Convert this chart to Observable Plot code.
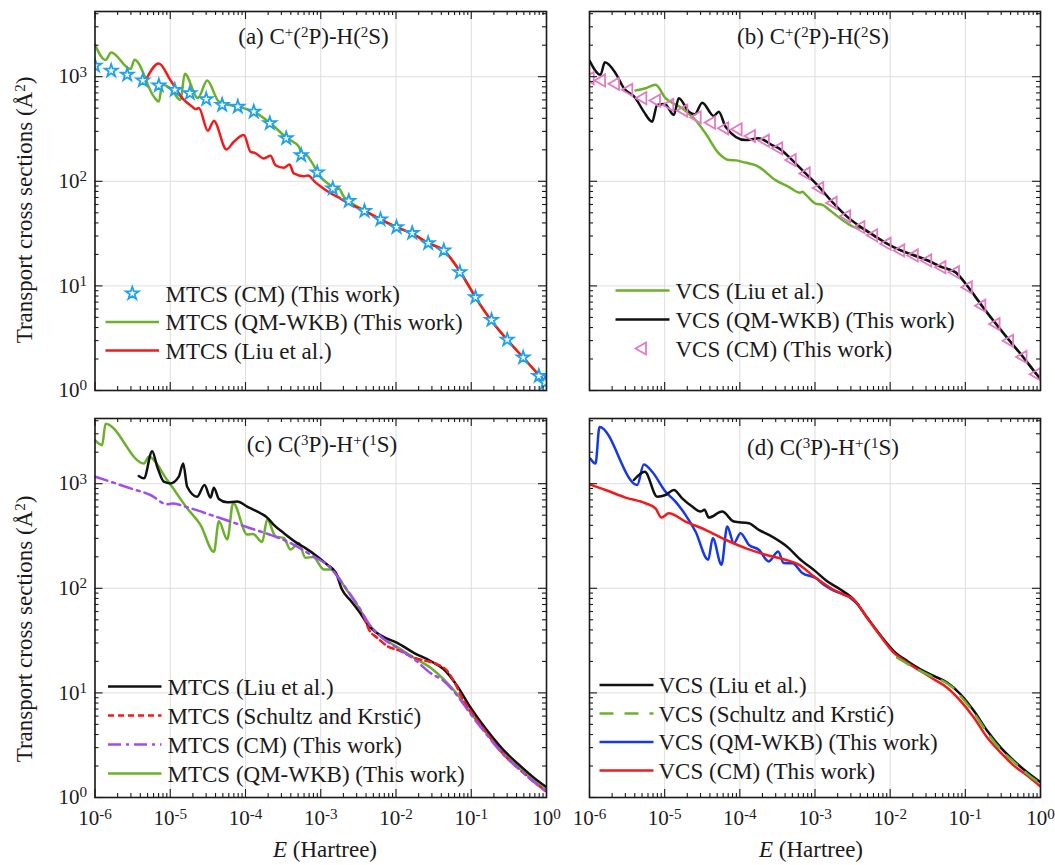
<!DOCTYPE html>
<html><head><meta charset="utf-8">
<script src="https://cdn.jsdelivr.net/npm/d3@7"></script>
<script src="https://cdn.jsdelivr.net/npm/@observablehq/plot@0.6"></script>
<style>
html,body{margin:0;padding:0;background:#fff;}
#root{position:relative;width:1055px;height:865px;overflow:hidden;font-family:"Liberation Serif","Times New Roman",serif;}
#root svg{position:absolute;}
</style></head><body><div id="root"></div>
<script>
// ---------- axis tick values ----------
const majorX = [1e-6, 1e-5, 1e-4, 1e-3, 1e-2, 1e-1, 1];
const majorY = [1, 10, 100, 1000];
const minorMult = [2, 3, 4, 5, 6, 7, 8, 9];
const yMax = 4200;

// ---------- panel (a): MTCS, C+(2P)-H(2S) (log10 values) ----------
const a_cm_logE = [-6.0,-5.785,-5.572,-5.365,-5.152,-4.94,-4.74,-4.522,-4.31,-4.102,-3.89,-3.677,-3.459,-3.26,-3.047,-2.84,-2.627,-2.419,-2.206,-1.993,-1.785,-1.572,-1.365,-1.152,-0.944,-0.731,-0.522,-0.31,-0.102,-0.02];
const a_cm_logS = [3.105,3.057,3.018,2.964,2.916,2.874,2.842,2.785,2.73,2.714,2.666,2.555,2.411,2.25,2.084,1.931,1.812,1.716,1.636,1.562,1.505,1.409,1.339,1.131,0.891,0.674,0.485,0.315,0.139,0.075];
const a_qm_logE = [-6.0,-5.86,-5.785,-5.528,-5.475,-5.218,-5.152,-5.107,-5.0,-4.864,-4.807,-4.634,-4.509,-4.354,-4.11,-3.89,-3.668,-3.446,-3.29,-3.24,-3.19,-3.136,-3.003,-2.87,-2.8,-2.76,-2.7,-2.627,-2.428,-2.206,-1.993,-1.785,-1.572,-1.365,-1.143,-0.944,-0.731,-0.522,-0.31,-0.08,0];
const a_qm_logS = [3.306,3.16,3.232,3.073,3.162,2.81,2.762,2.922,2.89,2.778,3.028,2.795,2.964,2.762,2.714,2.666,2.555,2.411,2.33,2.24,2.25,2.20,2.042,1.96,1.92,1.93,1.86,1.812,1.723,1.636,1.562,1.499,1.409,1.339,1.131,0.891,0.667,0.485,0.315,0.13,0.06];
const a_liu_logE = [-5.33,-5.152,-5.0,-4.84,-4.71,-4.66,-4.62,-4.5,-4.42,-4.253,-4.155,-4.022,-3.933,-3.87,-3.757,-3.668,-3.601,-3.49,-3.415,-3.358,-3.225,-3.17,-3.07,-3.0,-2.87,-2.737,-2.627,-2.428,-2.206,-1.993,-1.785,-1.572,-1.365,-1.143,-0.944,-0.731,-0.522,-0.31,-0.08,0];
const a_liu_logS = [2.96,3.125,2.97,2.795,2.714,2.69,2.70,2.484,2.577,2.305,2.378,2.442,2.282,2.27,2.219,2.244,2.154,2.129,2.161,2.075,2.049,2.055,1.99,1.95,1.886,1.835,1.787,1.723,1.636,1.562,1.499,1.409,1.339,1.131,0.891,0.667,0.485,0.315,0.13,0.07];

// ---------- panel (b): VCS, C+(2P)-H(2S) ----------
const b_qm_logE = [-6.0,-5.854,-5.796,-5.654,-5.543,-5.388,-5.278,-5.166,-5.1,-5.0,-4.878,-4.812,-4.679,-4.6,-4.5,-4.346,-4.28,-4.19,-3.925,-3.748,-3.57,-3.48,-3.303,-3.126,-2.95,-2.759,-2.578,-2.389,-2.219,-2.04,-1.859,-1.679,-1.5,-1.311,-1.131,-0.96,-0.78,-0.591,-0.411,-0.232,-0.052,0];
const b_qm_logS = [3.155,3.018,3.137,3.034,2.89,2.795,2.666,2.57,2.73,2.74,2.634,2.795,2.666,2.64,2.752,2.625,2.666,2.522,2.394,2.411,2.346,2.315,2.203,2.075,1.95,1.793,1.665,1.562,1.483,1.403,1.339,1.291,1.243,1.179,1.131,0.987,0.811,0.635,0.475,0.321,0.155,0.11];
const b_cm_logE = [-5.99,-5.84,-5.654,-5.477,-5.29,-5.109,-4.932,-4.745,-4.567,-4.377,-4.2,-4.022,-3.845,-3.66,-3.482,-3.303,-3.117,-2.936,-2.759,-2.578,-2.389,-2.219,-2.04,-1.859,-1.679,-1.5,-1.311,-1.131,-0.96,-0.78,-0.591,-0.411,-0.232,-0.052];
const b_cm_logS = [2.987,2.964,2.932,2.874,2.795,2.772,2.73,2.676,2.612,2.561,2.507,2.497,2.433,2.388,2.315,2.203,2.075,1.935,1.793,1.665,1.562,1.483,1.403,1.339,1.291,1.243,1.179,1.131,0.987,0.811,0.635,0.475,0.321,0.155];
const b_liu_logE = [-5.388,-5.25,-5.122,-4.989,-4.767,-4.59,-4.457,-4.28,-4.147,-4.05,-3.969,-3.748,-3.526,-3.349,-3.2,-3.17,-3.12,-2.993,-2.9,-2.803,-2.578,-2.48,-2.389,-2.219,-2.04,-1.859,-1.679,-1.5,-1.311,-1.131,-0.96,-0.78,-0.591,-0.411,-0.232,-0.052,0];
const b_liu_logS = [2.868,2.89,2.922,2.795,2.699,2.586,2.459,2.267,2.203,2.2,2.186,2.138,2.011,1.946,1.89,1.9,1.87,1.787,1.775,1.723,1.601,1.562,1.555,1.483,1.403,1.339,1.295,1.243,1.179,1.131,0.987,0.811,0.635,0.475,0.321,0.155,0.11];

// ---------- panel (c): MTCS, C(3P)-H+(1S) ----------
const c_liu_logE = [-5.418,-5.35,-5.24,-5.173,-5.085,-4.997,-4.886,-4.828,-4.775,-4.642,-4.545,-4.465,-4.42,-4.354,-4.243,-4.11,-3.978,-3.8,-3.712,-3.624,-3.49,-3.313,-3.203,-3.047,-2.914,-2.8,-2.719,-2.6,-2.493,-2.36,-2.18,-1.984,-1.763,-1.541,-1.365,-1.187,-1.01,-0.788,-0.567,-0.345,-0.169,0];
const c_liu_logS = [3.074,3.051,3.311,3.162,3.019,3.003,3.067,3.193,2.971,2.876,2.988,2.867,2.962,2.854,2.822,2.829,2.781,2.717,2.676,2.607,2.527,2.432,2.384,2.305,2.226,2.15,1.99,1.88,1.781,1.64,1.54,1.479,1.383,1.305,1.226,1.067,0.86,0.64,0.45,0.3,0.19,0.098];
const c_sk_logE = [-2.428,-2.36,-2.25,-2.117,-1.94,-1.763,-1.63,-1.452,-1.32,-1.21,-1.1,-1.01,-0.788,-0.567,-0.345,-0.169,0];
const c_sk_logS = [1.733,1.606,1.527,1.448,1.4,1.336,1.311,1.273,1.21,1.083,0.924,0.829,0.61,0.41,0.26,0.15,0.06];
const c_cm_logE = [-6.0,-5.794,-5.528,-5.262,-5.04,-4.98,-4.73,-4.465,-4.2,-3.935,-3.668,-3.402,-3.136,-2.87,-2.674,-2.493,-2.359,-2.18,-1.984,-1.763,-1.541,-1.365,-1.187,-1.01,-0.788,-0.567,-0.345,-0.169,0];
const c_cm_logS = [3.067,3.019,2.955,2.892,2.803,2.81,2.765,2.702,2.638,2.574,2.511,2.432,2.321,2.194,2.01,1.82,1.66,1.525,1.43,1.325,1.19,1.114,0.975,0.8,0.595,0.405,0.26,0.15,0.05];
const c_qm_logE = [-6.0,-5.905,-5.86,-5.35,-5.285,-5.04,-4.775,-4.598,-4.42,-4.354,-4.243,-4.164,-3.978,-3.9,-3.778,-3.712,-3.6,-3.49,-3.402,-3.292,-3.203,-3.1,-2.96,-2.87,-2.81,-2.674,-2.493,-2.359,-2.18,-1.984,-1.763,-1.541,-1.365,-1.187,-1.01,-0.788,-0.567,-0.345,-0.169,0];
const c_qm_logS = [3.416,3.368,3.574,3.193,3.257,3.035,2.765,2.607,2.348,2.64,2.466,2.815,2.514,2.52,2.443,2.657,2.497,2.481,2.371,2.434,2.291,2.3,2.18,2.18,2.148,2.005,1.814,1.656,1.528,1.438,1.336,1.241,1.13,0.988,0.812,0.607,0.416,0.273,0.162,0.067];

// ---------- panel (d): VCS, C(3P)-H+(1S) ----------
const d_liu_logE = [-5.41,-5.264,-5.1,-4.989,-4.878,-4.767,-4.634,-4.523,-4.47,-4.413,-4.235,-4.08,-3.88,-3.748,-3.615,-3.349,-3.216,-2.993,-2.838,-2.661,-2.484,-2.306,-2.129,-1.952,-1.774,-1.597,-1.42,-1.242,-1.064,-0.887,-0.709,-0.532,-0.355,-0.177,0];
const d_liu_logS = [3.035,3.114,2.876,2.892,2.94,2.86,2.781,2.733,2.75,2.676,2.733,2.638,2.622,2.559,2.511,2.384,2.289,2.162,2.067,1.988,1.892,1.72,1.55,1.4,1.305,1.226,1.162,1.098,0.987,0.829,0.638,0.479,0.352,0.241,0.146];
const d_sk_logE = [-1.907,-1.75,-1.464,-1.242,-1.15,-1.064,-0.887,-0.709,-0.532,-0.355,-0.177,0];
const d_sk_logS = [1.336,1.27,1.162,1.09,1.04,0.97,0.81,0.62,0.46,0.34,0.226,0.13];
const d_qm_logE = [-5.99,-5.92,-5.867,-5.365,-5.278,-5.166,-4.989,-4.856,-4.723,-4.59,-4.421,-4.36,-4.244,-4.168,-4.08,-3.991,-3.88,-3.748,-3.615,-3.49,-3.415,-3.3,-3.17,-2.993,-2.883,-2.75,-2.528,-2.42];
const d_qm_logS = [3.241,3.193,3.543,2.987,3.184,3.114,2.924,2.829,2.702,2.543,2.273,2.479,2.225,2.59,2.431,2.527,2.416,2.369,2.257,2.352,2.241,2.24,2.146,2.098,2.035,1.978,1.908,1.84];
const d_cm_logE = [-6.0,-5.787,-5.521,-5.255,-5.122,-5.042,-4.945,-4.723,-4.457,-4.19,-3.925,-3.659,-3.393,-3.216,-3.016,-2.794,-2.617,-2.484,-2.306,-2.129,-1.952,-1.774,-1.597,-1.42,-1.242,-1.064,-0.887,-0.709,-0.532,-0.355,-0.177,0];
const d_cm_logS = [2.993,2.94,2.867,2.813,2.765,2.676,2.717,2.638,2.559,2.464,2.384,2.321,2.273,2.226,2.114,2.003,1.94,1.892,1.717,1.543,1.384,1.289,1.21,1.13,1.05,0.924,0.765,0.574,0.431,0.305,0.21,0.105];

// ---------- colours ----------
const C = {green:"#6BB12A", red:"#F21B1B", star:"#1EA2EA", pink:"#E37AC4", purple:"#A24CF0", blue:"#1538E8", black:"#111"};

// ---------- helpers ----------
const rows = (lx, ly) => lx.map((v, i) => ({E: Math.pow(10, v), S: Math.pow(10, ly[i])}));
const minorX = majorX.slice(0, -1).flatMap(d => minorMult.map(m => m * d));
const minorY = majorY.flatMap(d => minorMult.map(m => m * d)).filter(v => v < yMax);
const ns = "http://www.w3.org/2000/svg";
const root = document.getElementById("root");

function supText(sel, parts) {
  let raised = false;
  for (const [t, k] of parts) {
    const ts = sel.append("tspan").text(t);
    if (k === "s") { ts.attr("font-size", "0.65em").attr("dy", raised ? null : "-0.45em"); raised = true; }
    else { if (raised) ts.attr("dy", "0.29em"); raised = false; if (k === "i") ts.attr("font-style", "italic"); }
  }
}

function panel(spec) {
  const {left, top, width, height, mL, mR, mT, mB, xLabels, yLabels, marks} = spec;
  const W = width - mL - mR, H = height - mT - mB;
  const fmt = d => "10^" + Math.round(Math.log10(d));
  const tk = {stroke: "#1a1a1a", strokeWidth: 1.1};
  const chart = Plot.plot({
    width, height, marginLeft: mL, marginRight: mR, marginTop: mT, marginBottom: mB,
    style: {fontFamily: "'Liberation Serif', 'Times New Roman', serif", fontSize: "21px", color: "#1a1a1a", background: "transparent", overflow: "visible"},
    x: {type: "log", domain: [1e-6, 1], axis: xLabels ? "bottom" : null, ticks: majorX, tickSize: 0, tickPadding: 13, tickFormat: fmt, label: null},
    y: {type: "log", domain: [1, yMax], axis: yLabels ? "left" : null, ticks: majorY, tickSize: 0, tickPadding: 8, tickFormat: fmt, label: null},
    marks: [
      Plot.ruleX(majorX, {x: d => d, stroke: "#dedede", strokeWidth: 1}),
      Plot.ruleY(majorY, {y: d => d, stroke: "#dedede", strokeWidth: 1}),
      ...marks,
      Plot.tickX(majorX, {x: d => d, insetBottom: H - 8, ...tk}),
      Plot.tickX(majorX, {x: d => d, insetTop: H - 8, ...tk}),
      Plot.tickX(minorX, {x: d => d, insetBottom: H - 4, ...tk}),
      Plot.tickX(minorX, {x: d => d, insetTop: H - 4, ...tk}),
      Plot.tickY(majorY, {y: d => d, insetRight: W - 8, ...tk}),
      Plot.tickY(majorY, {y: d => d, insetLeft: W - 8, ...tk}),
      Plot.tickY(minorY, {y: d => d, insetRight: W - 4, ...tk}),
      Plot.tickY(minorY, {y: d => d, insetLeft: W - 4, ...tk}),
      Plot.frame({stroke: "#1a1a1a", strokeWidth: 1.6})
    ]
  });
  chart.style.left = left + "px";
  chart.style.top = top + "px";
  chart.querySelectorAll("text").forEach(t => {
    const s = t.textContent;
    if (!s.includes("^")) return;
    const [b, e] = s.split("^");
    t.textContent = "";
    const t1 = document.createElementNS(ns, "tspan"); t1.textContent = b; t.appendChild(t1);
    const t2 = document.createElementNS(ns, "tspan"); t2.textContent = e;
    t2.setAttribute("font-size", "0.72em"); t2.setAttribute("dy", "-0.45em"); t.appendChild(t2);
  });
  root.appendChild(chart);
}

const line = (data, stroke, extra = {}) => Plot.line(data, {x: "E", y: "S", stroke, strokeWidth: 2.5, curve: "monotone-x", clip: true, ...extra});

// (a)
panel({left: 0, top: 0, width: 560, height: 400, mL: 94.5, mR: 14, mT: 11, mB: 10, xLabels: false, yLabels: true,
  marks: [
    line(rows(a_qm_logE, a_qm_logS), C.green),
    line(rows(a_liu_logE, a_liu_logS), C.red),
    Plot.dot(rows(a_cm_logE, a_cm_logS), {x: "E", y: "S", symbol: "star", r: 4, stroke: C.star, fill: "white", strokeWidth: 1.8, clip: true})
  ]});
// (b)
panel({left: 560, top: 0, width: 495, height: 400, mL: 29, mR: 15, mT: 11, mB: 10, xLabels: false, yLabels: false,
  marks: [
    line(rows(b_liu_logE, b_liu_logS), C.green),
    line(rows(b_qm_logE, b_qm_logS), C.black),
    Plot.dot(rows(b_cm_logE, b_cm_logS), {x: "E", y: "S", symbol: "triangle", rotate: -90, r: 4.5, stroke: C.pink, fill: "none", strokeWidth: 1.8, clip: true})
  ]});
// (c)
panel({left: 0, top: 400, width: 560, height: 465, mL: 94.5, mR: 14, mT: 18, mB: 68, xLabels: true, yLabels: true,
  marks: [
    line(rows(c_qm_logE, c_qm_logS), C.green),
    line(rows(c_liu_logE, c_liu_logS), C.black),
    line(rows(c_sk_logE, c_sk_logS), C.red, {strokeDasharray: "6,4"}),
    line(rows(c_cm_logE, c_cm_logS), C.purple, {strokeDasharray: "13,5,3,5"})
  ]});
// (d)
panel({left: 560, top: 400, width: 495, height: 465, mL: 29, mR: 15, mT: 18, mB: 68, xLabels: true, yLabels: false,
  marks: [
    line(rows(d_qm_logE, d_qm_logS), C.blue),
    line(rows(d_liu_logE, d_liu_logS), C.black),
    line(rows(d_cm_logE, d_cm_logS), C.red),
    line(rows(d_sk_logE, d_sk_logS), C.green, {strokeDasharray: "14,11"})
  ]});

// ---------- overlay texts: titles, legends, axis titles ----------
const ov = d3.select(root).append("svg").attr("width", 1055).attr("height", 865)
  .style("left", "0px").style("top", "0px")
  .attr("font-family", "'Liberation Serif', 'Times New Roman', serif").attr("fill", "#1a1a1a");

function title(x, y, parts) {
  supText(ov.append("text").attr("x", x).attr("y", y).attr("text-anchor", "middle").attr("font-size", 23), parts);
}
title(313.5, 44, [["(a) C","n"],["+","s"],["(","n"],["2","s"],["P)-H(","n"],["2","s"],["S)","n"]]);
title(813, 44, [["(b) C","n"],["+","s"],["(","n"],["2","s"],["P)-H(","n"],["2","s"],["S)","n"]]);
title(322, 452, [["(c) C(","n"],["3","s"],["P)-H","n"],["+","s"],["(","n"],["1","s"],["S)","n"]]);
title(823, 455, [["(d) C(","n"],["3","s"],["P)-H","n"],["+","s"],["(","n"],["1","s"],["S)","n"]]);

for (const cy of [210, 629]) {
  supText(ov.append("text").attr("transform", `translate(32,${cy}) rotate(-90)`).attr("text-anchor", "middle").attr("font-size", 23),
    [["Transport cross sections (Å","n"],["2","s"],[")","n"]]);
}
for (const cx of [325, 811]) {
  supText(ov.append("text").attr("x", cx).attr("y", 857).attr("text-anchor", "middle").attr("font-size", 23),
    [["E","i"],[" (Hartree)","n"]]);
}

function legend(x0, x1, tx, baselines, items) {
  items.forEach((it, i) => {
    const yb = baselines[i], yc = yb - 8;
    if (it.line) {
      ov.append("line").attr("x1", x0).attr("x2", x1).attr("y1", yc).attr("y2", yc)
        .attr("stroke", it.color).attr("stroke-width", 2.6).attr("stroke-dasharray", it.dash || null);
    }
    if (it.symbol) {
      const size = Math.PI * it.r * it.r;
      ov.append("path").attr("d", d3.symbol(it.symbol, size)())
        .attr("transform", `translate(${(x0 + x1) / 2},${yc}) rotate(${it.rotate || 0})`)
        .attr("stroke", it.color).attr("stroke-width", 1.8).attr("fill", it.fill || "none");
    }
    ov.append("text").attr("x", tx).attr("y", yb).attr("font-size", 23).text(it.label);
  });
}
legend(105.5, 159, 165.5, [301.5, 330, 358.5], [
  {symbol: d3.symbolStar, r: 4, color: C.star, fill: "white", label: "MTCS (CM) (This work)"},
  {line: true, color: C.green, label: "MTCS (QM-WKB) (This work)"},
  {line: true, color: C.red, label: "MTCS (Liu et al.)"}
]);
legend(615.5, 669.5, 675.5, [298.5, 327.5, 356.5], [
  {line: true, color: C.green, label: "VCS (Liu et al.)"},
  {line: true, color: C.black, label: "VCS (QM-WKB) (This work)"},
  {symbol: d3.symbolTriangle, r: 4.5, rotate: -90, color: C.pink, label: "VCS (CM) (This work)"}
]);
legend(108, 161.5, 167.5, [694.5, 723.5, 752.5, 781.5], [
  {line: true, color: C.black, label: "MTCS (Liu et al.)"},
  {line: true, color: C.red, dash: "6,4", label: "MTCS (Schultz and Krstić)"},
  {line: true, color: C.purple, dash: "13,5,3,5", label: "MTCS (CM) (This work)"},
  {line: true, color: C.green, label: "MTCS (QM-WKB) (This work)"}
]);
legend(599.5, 653.5, 658.5, [693, 721.5, 750, 778.5], [
  {line: true, color: C.black, label: "VCS (Liu et al.)"},
  {line: true, color: C.green, dash: "14,11", label: "VCS (Schultz and Krstić)"},
  {line: true, color: C.blue, label: "VCS (QM-WKB) (This work)"},
  {line: true, color: C.red, label: "VCS (CM) (This work)"}
]);
</script></body></html>
